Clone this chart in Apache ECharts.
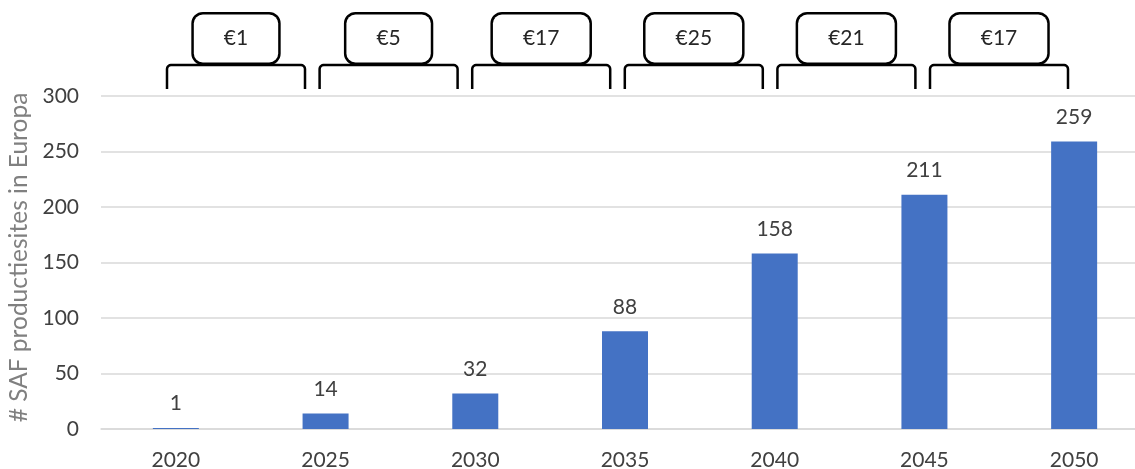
<!DOCTYPE html>
<html>
<head>
<meta charset="utf-8">
<script src="https://cdn.jsdelivr.net/npm/echarts@6/dist/echarts.min.js"></script>
<style>
  html, body { margin: 0; padding: 0; background: #fff; }
  #chart { width: 1135px; height: 469px; }
</style>
</head>
<body>
<div id="chart"></div>
<script>
// Number of SAF production sites in Europe per year
const years = ['2020', '2025', '2030', '2035', '2040', '2045', '2050'];
const sites = [1, 14, 32, 88, 158, 211, 259];
// Price annotations shown above each five-year step
const priceLabels = ['€1', '€5', '€17', '€25', '€21', '€17'];

const yMin = 0;
const yMax = 300;
const yStep = 50;

const FONT = 'Lato, "Noto Sans", sans-serif';

// Bracket geometry for the annotation row
const bracketStart = 167;
const bracketPitch = 152.6;
const bracketWidth = 138;
const bracketTop = 65;
const bracketBottom = 89;
const r = 4;

// Rounded corner approximated by a few points on a quarter circle
function corner(cx, cy, startAngle) {
  const pts = [];
  for (let k = 0; k <= 4; k++) {
    const a = startAngle + (k / 4) * Math.PI / 2;
    pts.push([cx + r * Math.cos(a), cy + r * Math.sin(a)]);
  }
  return pts;
}

const graphics = [];
priceLabels.forEach((label, i) => {
  const x0 = bracketStart + i * bracketPitch;
  const x1 = x0 + bracketWidth;
  const points = [[x0, bracketBottom]]
    .concat(corner(x0 + r, bracketTop + r, Math.PI))
    .concat(corner(x1 - r, bracketTop + r, 1.5 * Math.PI))
    .concat([[x1, bracketBottom]]);
  graphics.push({
    type: 'polyline',
    shape: { points: points },
    style: { fill: null, stroke: '#000', lineWidth: 2.5, lineJoin: 'round' },
    z: 10
  });
  graphics.push({
    type: 'text',
    x: (x0 + x1) / 2,
    y: 38.5,
    z: 11,
    style: {
      text: label,
      font: '21px ' + FONT,
      fill: '#262626',
      align: 'center',
      verticalAlign: 'middle',
      lineHeight: 22,
      padding: [13, 30, 13, 30],
      backgroundColor: '#fff',
      borderColor: '#000',
      borderWidth: 2.5,
      borderRadius: 9
    }
  });
});

const chart = echarts.init(document.getElementById('chart'), null, { renderer: 'canvas' });
chart.setOption({
  animation: false,
  backgroundColor: '#fff',
  grid: {
    left: 101, top: 96, width: 1048, height: 333,
    containLabel: false,
    outerBoundsMode: 'none'
  },
  xAxis: {
    type: 'category',
    data: years,
    axisLine: { show: true, lineStyle: { color: '#d9d9d9', width: 1.5 } },
    axisTick: { show: false },
    axisLabel: { color: '#404040', fontFamily: FONT, fontSize: 21, margin: 21 }
  },
  yAxis: {
    type: 'value',
    min: yMin,
    max: yMax,
    interval: yStep,
    name: '# SAF productiesites in Europa',
    nameLocation: 'middle',
    nameGap: 65,
    nameTextStyle: { color: '#808080', fontFamily: FONT, fontSize: 24.5, padding: [0, 0, 0, 10] },
    axisLine: { show: false },
    axisTick: { show: false },
    axisLabel: { color: '#404040', fontFamily: FONT, fontSize: 21, margin: 22 },
    splitLine: { lineStyle: { color: '#d9d9d9', width: 1.5 } }
  },
  series: [{
    type: 'bar',
    data: sites,
    barWidth: 46,
    itemStyle: { color: '#4472C4' },
    label: {
      show: true,
      position: 'top',
      distance: 14,
      color: '#404040',
      fontFamily: FONT,
      fontSize: 21
    }
  }],
  graphic: graphics
});
</script>
</body>
</html>
